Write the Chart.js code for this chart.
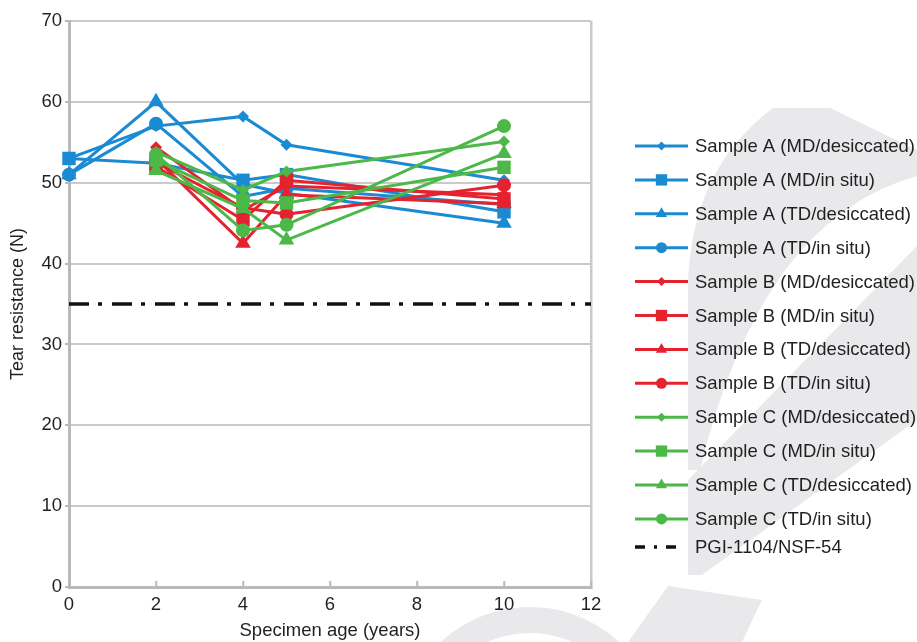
<!DOCTYPE html>
<html>
<head>
<meta charset="utf-8">
<title>Tear resistance vs specimen age</title>
<script src="https://cdn.jsdelivr.net/npm/chart.js@4.4.1/dist/chart.umd.min.js"></script>
<style>
  html, body { margin:0; padding:0; background:#fff; }
  #wrap { width:917px; height:642px; position:relative; }
</style>
</head>
<body>
<div id="wrap"><canvas id="tearChart"></canvas></div>
<script>
/* ---------------- data ---------------- */
const ages = [0, 2, 4, 5, 10];

const aMdDesiccated = [53.0, 57.0, 58.2, 54.7, 50.3];
const aMdInSitu     = [53.0, 52.4, 50.3, 51.0, 46.4];
const aTdDesiccated = [51.0, 60.0, 49.8, 48.7, 45.0];
const aTdInSitu     = [51.0, 57.3, 48.3, 49.3, 47.3];

const bMdDesiccated = [null, 54.4, 46.6, 49.6, 48.5];
const bMdInSitu     = [null, 52.0, 45.4, 50.3, 48.0];
const bTdDesiccated = [null, 53.0, 42.5, 48.5, 47.4];
const bTdInSitu     = [null, 52.5, 46.9, 46.1, 49.7];

const cMdDesiccated = [null, 53.8, 49.1, 51.4, 55.1];
const cMdInSitu     = [null, 52.8, 47.8, 47.5, 51.9];
const cTdDesiccated = [null, 51.5, 46.8, 42.9, 53.6];
const cTdInSitu     = [null, 53.5, 44.1, 44.8, 57.0];

const seriesLabels = [
  "Sample A (MD/desiccated)", "Sample A (MD/in situ)", "Sample A (TD/desiccated)", "Sample A (TD/in situ)",
  "Sample B (MD/desiccated)", "Sample B (MD/in situ)", "Sample B (TD/desiccated)", "Sample B (TD/in situ)",
  "Sample C (MD/desiccated)", "Sample C (MD/in situ)", "Sample C (TD/desiccated)", "Sample C (TD/in situ)"
];
const seriesValues = [
  aMdDesiccated, aMdInSitu, aTdDesiccated, aTdInSitu,
  bMdDesiccated, bMdInSitu, bTdDesiccated, bTdInSitu,
  cMdDesiccated, cMdInSitu, cTdDesiccated, cTdInSitu
];
const seriesMarkers = ["rectRot", "rect", "triangle", "circle"];

const limitLabel = "PGI-1104/NSF-54";
const limitValue = 35;
const limitAges  = [0, 12];

const xTicks = [0, 2, 4, 6, 8, 10, 12];
const yTicks = [0, 10, 20, 30, 40, 50, 60, 70];

/* ---------------- styling ---------------- */
const COLORS = {
  A: "#1a8bd2",
  B: "#e5222f",
  C: "#4cb848",
  limit: "#111111",
  text: "#231f20",
  grid: "#cacaca",
  axis: "#b9b9b9",
  mark: "#e9e9eb"
};
const FONT = "'Liberation Sans', Arial, sans-serif";
const PLOT_SIZE   = { rectRot:6, rect:9.5, triangle:9, circle:7 };
const LEGEND_SIZE = { rectRot:4.5, rect:8, triangle:6.5, circle:5.5 };

function groupOf(i){ return ["A","B","C"][Math.floor(i/4)]; }

const datasets = seriesLabels.map((label, i) => {
  const color = COLORS[groupOf(i)];
  const marker = seriesMarkers[i % 4];
  return {
    label,
    data: ages.map((x, k) => ({ x, y: seriesValues[i][k] })).filter(p => p.y !== null),
    borderColor: color,
    backgroundColor: color,
    pointBackgroundColor: color,
    pointBorderColor: color,
    pointBorderWidth: 0,
    pointStyle: marker,
    pointRadius: PLOT_SIZE[marker],
    pointHoverRadius: PLOT_SIZE[marker],
    borderWidth: 3,
    tension: 0,
    clip: false,
    order: 3 - Math.floor(i/4)
  };
});

datasets.push({
  label: limitLabel,
  data: limitAges.map(x => ({ x, y: limitValue })),
  borderColor: COLORS.limit,
  borderWidth: 3.5,
  borderDash: [20, 9, 4, 10],
  pointRadius: 0,
  order: 5
});

/* ---------------- helpers ---------------- */
function drawMarker(ctx, style, x, y, r){
  ctx.beginPath();
  if (style === "circle") {
    ctx.arc(x, y, r, 0, Math.PI*2);
  } else if (style === "rect") {
    const s = r*Math.SQRT1_2;
    ctx.rect(x-s, y-s, 2*s, 2*s);
  } else if (style === "rectRot") {
    ctx.moveTo(x, y-r); ctx.lineTo(x+r, y); ctx.lineTo(x, y+r); ctx.lineTo(x-r, y);
  } else if (style === "triangle") {
    ctx.moveTo(x, y-r);
    ctx.lineTo(x+0.866*r, y+0.5*r);
    ctx.lineTo(x-0.866*r, y+0.5*r);
  }
  ctx.closePath();
  ctx.fill();
}

/* faint publisher watermark behind everything */
const watermark = {
  id: "watermark",
  beforeDraw(chart){
    const ctx = chart.ctx;
    ctx.save();
    ctx.fillStyle = COLORS.mark;
    ctx.strokeStyle = COLORS.mark;
    // crescent
    ctx.beginPath();
    ctx.moveTo(773,108); ctx.lineTo(830,108); ctx.lineTo(917,150); ctx.lineTo(917,176);
    ctx.quadraticCurveTo(760,220,700,470);
    ctx.lineTo(688,470); ctx.lineTo(688,287);
    ctx.quadraticCurveTo(690,170,773,108);
    ctx.closePath(); ctx.fill();
    // ribbon
    ctx.beginPath();
    ctx.moveTo(917,246); ctx.lineTo(917,420); ctx.lineTo(702,575); ctx.lineTo(688,575); ctx.lineTo(688,480);
    ctx.closePath(); ctx.fill();
    // lower band
    ctx.beginPath();
    ctx.moveTo(628,642); ctx.lineTo(668,586); ctx.lineTo(762,600); ctx.lineTo(742,642);
    ctx.closePath(); ctx.fill();
    // bottom ring
    ctx.beginPath();
    ctx.lineWidth = 26;
    ctx.arc(530, 738, 118, Math.PI*1.1, Math.PI*1.9);
    ctx.stroke();
    ctx.restore();
  }
};

/* legend on the right: line + marker + text */
const sideLegend = {
  id: "sideLegend",
  afterDraw(chart){
    const ctx = chart.ctx;
    const x0 = chart.chartArea.right + 44, x1 = x0 + 53, tx = x1 + 7;
    const top = 146, step = 33.9;
    ctx.save();
    ctx.font = "18.5px " + FONT;
    ctx.textBaseline = "middle";
    ctx.textAlign = "left";
    seriesLabels.forEach((label, i) => {
      const y = top + i*step;
      const color = COLORS[groupOf(i)];
      ctx.strokeStyle = color; ctx.fillStyle = color; ctx.lineWidth = 3;
      ctx.beginPath(); ctx.moveTo(x0, y); ctx.lineTo(x1, y); ctx.stroke();
      const m = seriesMarkers[i % 4];
      drawMarker(ctx, m, (x0+x1)/2, y, LEGEND_SIZE[m]);
      ctx.fillStyle = COLORS.text;
      ctx.fillText(label, tx, y + 1);
    });
    const y = 547;
    ctx.strokeStyle = COLORS.limit; ctx.lineWidth = 3.5;
    ctx.setLineDash([10, 9, 3, 9]);
    ctx.beginPath(); ctx.moveTo(x0, y); ctx.lineTo(x0 + 42, y); ctx.stroke();
    ctx.setLineDash([]);
    ctx.fillStyle = COLORS.text;
    ctx.fillText(limitLabel, tx, y + 1);
    ctx.restore();
  }
};

/* ---------------- chart ---------------- */
new Chart(document.getElementById("tearChart"), {
  type: "line",
  data: { datasets },
  plugins: [watermark, sideLegend],
  options: {
    responsive: true,
    maintainAspectRatio: false,
    animation: false,
    layout: { padding: { top: 21, right: 326, left: 0, bottom: 0 } },
    plugins: { legend: { display: false }, tooltip: { enabled: false } },
    scales: {
      x: {
        type: "linear",
        min: 0, max: 12,
        afterBuildTicks: s => { s.ticks = xTicks.map(v => ({ value: v })); },
        afterFit: s => { s.height = 55; },
        grid: {
          drawOnChartArea: true,
          color: c => (c.tick && c.tick.value === 12) ? COLORS.grid : "transparent",
          lineWidth: 2.5,
          tickColor: COLORS.axis,
          tickLength: -6,
          tickWidth: 2
        },
        border: { display: true, color: COLORS.axis, width: 3 },
        ticks: { color: COLORS.text, font: { family: FONT, size: 18.5 }, padding: 13, maxRotation: 0 },
        title: {
          display: true, text: "Specimen age (years)", color: COLORS.text,
          font: { family: FONT, size: 18.5 }, padding: { top: 0, bottom: 0 }
        }
      },
      y: {
        min: 0, max: 70,
        afterBuildTicks: s => { s.ticks = yTicks.map(v => ({ value: v })); },
        afterFit: s => { s.width = 69; },
        grid: { color: COLORS.grid, lineWidth: 2, tickColor: COLORS.axis, tickLength: 4, tickWidth: 2 },
        border: { display: true, color: COLORS.axis, width: 3 },
        ticks: { color: COLORS.text, font: { family: FONT, size: 18.5 }, padding: 3 },
        title: {
          display: true, text: "Tear resistance (N)", color: COLORS.text,
          font: { family: FONT, size: 18 }, padding: { top: 7, bottom: 0 }
        }
      }
    }
  }
});
</script>
</body>
</html>
